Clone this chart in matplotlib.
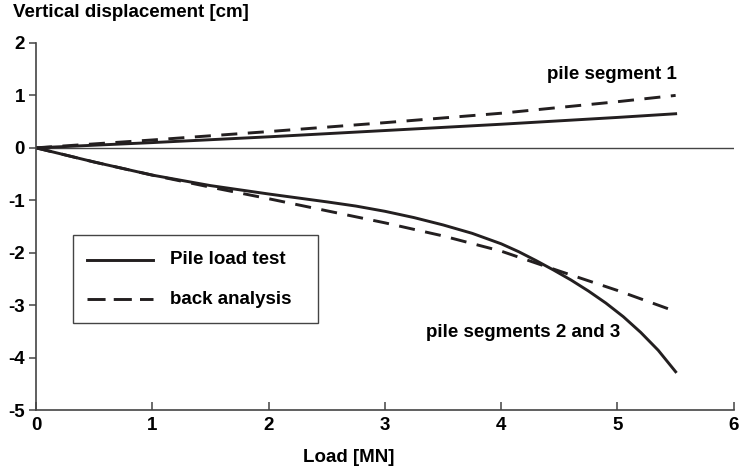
import matplotlib.pyplot as plt
from matplotlib.lines import Line2D
from matplotlib.patches import Rectangle

plt.rcParams['font.family'] = ['Liberation Sans', 'DejaVu Sans']
plt.rcParams['font.weight'] = 'bold'
plt.rcParams['axes.unicode_minus'] = False

ink = '#231f20'
fs = 13.5

# pile segment 1
load_s1 = [0, 1, 2, 3, 4, 5, 5.5]
test_s1 = [0, 0.1, 0.21, 0.33, 0.45, 0.58, 0.65]
back_s1 = [0, 0.15, 0.31, 0.48, 0.66, 0.88, 1.0]

# pile segments 2 and 3
load_test23 = [0, 0.5, 1, 1.5, 2, 2.5, 2.75, 3, 3.25, 3.5, 3.75, 4, 4.15,
               4.3, 4.45, 4.6, 4.75, 4.9, 5.05, 5.2, 5.35, 5.5]
test_23 = [0, -0.27, -0.52, -0.72, -0.88, -1.03, -1.11, -1.21, -1.33, -1.47,
           -1.63, -1.83, -1.98, -2.15, -2.33, -2.52, -2.73, -2.96, -3.22,
           -3.52, -3.86, -4.27]
load_back23 = [0, 0.5, 1, 1.5, 2, 2.5, 3, 3.5, 4, 4.5, 5, 5.5]
back_23 = [0, -0.27, -0.52, -0.75, -0.97, -1.2, -1.43, -1.68, -1.97,
           -2.35, -2.72, -3.12]

xticks = [0, 1, 2, 3, 4, 5, 6]
yticks = [-5, -4, -3, -2, -1, 0, 1, 2]
legend_labels = ['Pile load test', 'back analysis']

fig = plt.figure(figsize=(7.4, 4.67), dpi=100)
ax = fig.add_axes([0.0486, 0.122, 0.943, 0.786])

lw = 2.1
dash = (5.5, 3.6)
ax.axhline(0, color='#444444', lw=1.0)
ax.plot(load_s1, test_s1, color=ink, lw=lw)
ax.plot(load_s1, back_s1, color=ink, lw=lw, dashes=dash)
ax.plot(load_test23, test_23, color=ink, lw=lw)
ax.plot(load_back23, back_23, color=ink, lw=lw, dashes=dash)

ax.set_xlim(0, 6)
ax.set_ylim(-5, 2)
ax.set_xticks(xticks)
ax.set_yticks(yticks)
ax.tick_params(axis='x', direction='in', length=6, width=1.1, color='#444444',
               labelsize=fs, pad=5)
ax.tick_params(axis='y', direction='out', length=5, width=1.1, color='#444444',
               labelsize=fs, pad=3)
for s in ['top', 'right']:
    ax.spines[s].set_visible(False)
for s in ['left', 'bottom']:
    ax.spines[s].set_color('#444444')
    ax.spines[s].set_linewidth(1.2)

ax.set_xlabel('Load [MN]', fontsize=fs, fontweight='bold')
ax.xaxis.set_label_coords(0.448, -0.105)
fig.text(13 / 740, 1 - 4 / 467, 'Vertical displacement [cm]', fontsize=fs,
         fontweight='bold', ha='left', va='top')

ax.text(5.51, 1.39, 'pile segment 1', fontsize=fs, fontweight='bold',
        ha='right', va='center')
ax.text(4.19, -3.53, 'pile segments 2 and 3', fontsize=fs, fontweight='bold',
        ha='center', va='center')

# legend box drawn by hand to get the wide right padding
ax.add_patch(Rectangle((0.053, 0.237), 0.351, 0.240, transform=ax.transAxes,
                       facecolor='white', edgecolor='#444444', lw=1.0,
                       zorder=5))
for row_y, label, style in zip([0.409, 0.302], legend_labels,
                               [{}, {'dashes': (6.2, 2.8)}]):
    ax.add_line(Line2D([0.073, 0.168], [row_y, row_y], transform=ax.transAxes,
                       color=ink, lw=lw, zorder=6, **style))
    ax.text(0.192, row_y, label, transform=ax.transAxes, fontsize=fs,
            fontweight='bold', ha='left', va='center', zorder=6)

fig.savefig('out.png', dpi=100)
